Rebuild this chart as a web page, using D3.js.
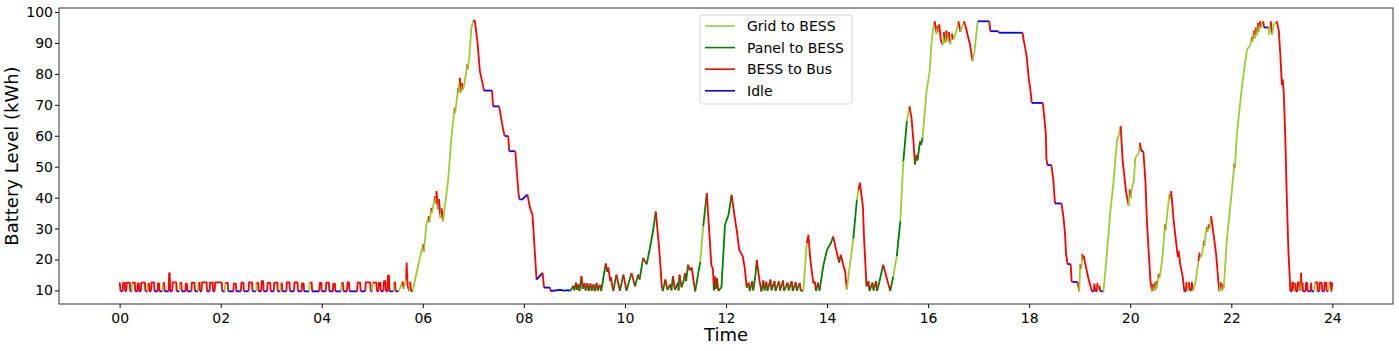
<!DOCTYPE html>
<html>
<head>
<meta charset="UTF-8">
<title>Battery level over the day</title>
<style>
  body { margin: 0; background: #fff; }
  svg text { font-family: "DejaVu Sans", sans-serif; fill: #000; }
</style>
</head>
<body>
<div id="chart"></div>
<script src="https://d3js.org/d3.v7.min.js"></script>
<script>
var width = 1399, height = 351;
var plotLeft = 59, plotRight = 1393, plotTop = 8, plotBottom = 304;

// readings: time (h), battery level (kWh), state of the segment that starts there
// g = grid to BESS, p = panel to BESS, b = BESS to bus, i = idle
var hours = [
  0.00, 0.02,
  0.06, 0.07, 0.10, 0.11, 0.13, 0.14, 0.20, 0.21,
  0.24, 0.25, 0.30, 0.31, 0.35, 0.36, 0.38, 0.39,
  0.42, 0.43, 0.50, 0.51, 0.55, 0.56, 0.58, 0.59,
  0.62, 0.63, 0.68, 0.69, 0.75, 0.76, 0.78, 0.79,
  0.85, 0.86, 0.88, 0.89, 0.97, 0.98, 0.99, 1.00,
  1.04, 1.05, 1.12, 1.13, 1.18, 1.19, 1.22, 1.23,
  1.30, 1.31, 1.33, 1.34, 1.42, 1.43, 1.48, 1.49,
  1.55, 1.56, 1.58, 1.59, 1.62, 1.63, 1.72, 1.73,
  1.78, 1.79, 1.84, 1.85, 1.88, 1.89, 2.02, 2.03,
  2.08, 2.09, 2.14, 2.15, 2.25, 2.26, 2.30, 2.31,
  2.40, 2.41, 2.45, 2.46, 2.55, 2.56, 2.62, 2.63,
  2.70, 2.71, 2.74, 2.75, 2.80, 2.81, 2.84, 2.85,
  2.92, 2.93, 2.98, 2.99, 3.05, 3.06, 3.12, 3.13,
  3.18, 3.19, 3.21, 3.22, 3.30, 3.31, 3.36, 3.37,
  3.45, 3.46, 3.52, 3.53, 3.60, 3.61, 3.64, 3.65,
  3.75, 3.76, 3.80, 3.81, 3.95, 3.96, 3.99, 4.00,
  4.08, 4.09, 4.14, 4.15, 4.22, 4.23, 4.26, 4.27,
  4.38, 4.39, 4.42, 4.43, 4.50, 4.51, 4.54, 4.55,
  4.70, 4.71, 4.76, 4.77, 4.86, 4.87, 4.96, 4.97,
  5.00, 5.01, 5.08, 5.09, 5.12, 5.13, 5.16, 5.17,
  5.22, 5.23, 5.26, 5.27, 5.30, 5.31, 5.33, 5.34,
  5.42, 5.43, 5.45, 5.46,
  5.52, 5.60, 5.62, 5.67, 5.68, 5.70, 5.73, 5.75, 5.77,
  5.80, 5.87, 5.94, 6.01, 6.02, 6.07, 6.12, 6.13, 6.17, 6.18, 6.24, 6.26,
  6.27, 6.30, 6.32, 6.35, 6.37, 6.40, 6.44, 6.50, 6.57,
  6.63, 6.64, 6.70, 6.71, 6.73, 6.76, 6.78, 6.79, 6.82, 6.88, 6.89, 6.92, 6.96,
  7.00, 7.03, 7.08, 7.13, 7.18, 7.21, 7.37, 7.39, 7.51, 7.59, 7.62, 7.69, 7.71, 7.83, 7.89, 7.91, 7.97,
  8.07, 8.12, 8.17, 8.22, 8.25, 8.37, 8.40, 8.52, 8.53, 8.72, 8.80, 8.88, 8.92,
  8.98, 9.00, 9.03, 9.05, 9.08, 9.10, 9.14, 9.16, 9.20, 9.22, 9.26, 9.28, 9.32, 9.34, 9.38, 9.40, 9.44, 9.46, 9.50, 9.53,
  9.62, 9.65, 9.67, 9.71, 9.72, 9.77, 9.83, 9.90, 9.97, 10.03, 10.13, 10.20, 10.26, 10.29,
  10.36, 10.43, 10.50, 10.56, 10.61, 10.68, 10.73,
  10.75, 10.80, 10.84, 10.90, 10.92, 10.95, 10.99, 11.05, 11.06, 11.08, 11.12, 11.16, 11.19, 11.21, 11.25, 11.28, 11.32, 11.39,
  11.49, 11.55, 11.62, 11.67, 11.71, 11.74, 11.76, 11.78, 11.80, 11.82, 11.85,
  11.91, 11.98, 12.05, 12.11, 12.18, 12.22, 12.26, 12.33, 12.37, 12.41,
  12.45, 12.47, 12.52, 12.54, 12.58, 12.61, 12.66, 12.70, 12.74, 12.76,
  12.80, 12.82, 12.88, 12.90, 12.96, 12.98, 13.05, 13.07, 13.13, 13.15,
  13.22, 13.24, 13.30, 13.32, 13.38, 13.40, 13.46, 13.48, 13.53,
  13.60, 13.63, 13.67, 13.73, 13.76, 13.78, 13.82, 13.85, 13.88,
  13.93, 14.00, 14.08, 14.12, 14.18, 14.24, 14.27, 14.36, 14.39,
  14.46, 14.52, 14.59, 14.62, 14.65, 14.71, 14.73, 14.77, 14.78,
  14.82, 14.84, 14.90, 14.92, 14.97, 14.99, 15.03, 15.11, 15.18, 15.25,
  15.31, 15.38, 15.45, 15.51, 15.58, 15.63, 15.67, 15.71, 15.74, 15.77, 15.79, 15.84, 15.86, 15.89,
  15.94, 15.97, 16.03, 16.07, 16.11,
  16.13, 16.17, 16.18, 16.20, 16.22, 16.25, 16.29, 16.31, 16.34, 16.36,
  16.38, 16.41, 16.44, 16.47, 16.50, 16.54, 16.57, 16.60, 16.64, 16.71,
  16.74, 16.79, 16.83, 16.88, 16.92, 16.98,
  17.21, 17.23, 17.39, 17.40, 17.87, 17.89, 17.92, 17.95, 17.99, 18.02,
  18.05, 18.27, 18.30, 18.33, 18.34, 18.36, 18.44, 18.48, 18.51, 18.64,
  18.68, 18.71, 18.73, 18.76, 18.82, 18.84, 18.86, 18.96, 18.99,
  19.01, 19.03, 19.05, 19.07, 19.08, 19.10, 19.17, 19.24, 19.28, 19.29,
  19.31, 19.34, 19.35, 19.37, 19.39, 19.41, 19.47,
  19.54, 19.60, 19.67, 19.74, 19.77, 19.81, 19.85, 19.88, 19.92, 19.95,
  19.97, 19.99, 20.01, 20.03, 20.07, 20.10, 20.17, 20.19, 20.22, 20.26,
  20.30, 20.33, 20.36, 20.40, 20.43,
  20.45, 20.46, 20.49, 20.50, 20.52, 20.53, 20.56, 20.58, 20.63, 20.69,
  20.70, 20.76, 20.78, 20.79, 20.81, 20.86, 20.92, 20.94, 20.96, 20.99,
  21.04, 21.07,
  21.10, 21.11, 21.13, 21.16, 21.18, 21.21, 21.22, 21.24, 21.29, 21.35,
  21.37, 21.38, 21.42, 21.46, 21.47, 21.49, 21.52, 21.53, 21.55, 21.57,
  21.60, 21.65, 21.70, 21.75, 21.76, 21.79, 21.81, 21.83, 21.85,
  21.91, 22.01, 22.06, 22.07, 22.11, 22.18, 22.24, 22.31, 22.38, 22.41,
  22.42, 22.45, 22.46, 22.49, 22.50, 22.53, 22.54, 22.57, 22.58, 22.63,
  22.65, 22.74, 22.75, 22.78, 22.81, 22.84, 22.90,
  22.94, 22.97, 23.00, 23.02, 23.04, 23.07, 23.10, 23.13, 23.17,
  23.20, 23.21, 23.23, 23.24, 23.27, 23.28, 23.31, 23.32, 23.35, 23.36,
  23.38, 23.39, 23.41, 23.42, 23.47, 23.48, 23.50, 23.51, 23.57, 23.58,
  23.59, 23.64, 23.66, 23.70, 23.71, 23.74, 23.75, 23.79, 23.80, 23.84,
  23.85, 23.88, 23.89, 23.92, 23.94, 23.97, 23.98, 24.00
];

var levels = [
  12.6, 9.7,
  9.7, 12.4, 12.4, 9.7, 9.7, 12.5, 12.5, 9.7,
  9.7, 12.5, 12.5, 9.7, 9.7, 12.3, 12.3, 9.7,
  9.7, 12.5, 12.5, 9.7, 9.7, 12.2, 12.2, 9.7,
  9.7, 12.6, 12.6, 9.7, 9.7, 12.3, 12.3, 9.7,
  9.7, 12.4, 12.4, 9.7, 9.7, 15.6, 15.6, 9.7,
  9.7, 12.6, 12.6, 9.7, 9.7, 12.4, 12.4, 9.7,
  9.7, 12.2, 12.2, 9.7, 9.7, 12.5, 12.5, 9.7,
  9.7, 12.4, 12.4, 9.7, 9.7, 12.6, 12.6, 9.7,
  9.7, 12.5, 12.5, 9.7, 9.7, 12.6, 12.6, 9.7,
  9.7, 12.4, 12.4, 9.7, 9.7, 12.2, 12.2, 9.7,
  9.7, 12.5, 12.5, 9.7, 9.7, 12.6, 12.6, 9.7,
  9.7, 12.4, 12.4, 9.7, 9.7, 13.0, 13.0, 9.7,
  9.7, 12.4, 12.4, 9.7, 9.7, 12.5, 12.5, 9.7,
  9.7, 12.3, 12.3, 9.7, 9.7, 12.6, 12.6, 9.7,
  9.7, 12.6, 12.6, 9.7, 9.7, 12.3, 12.3, 9.7,
  9.7, 12.5, 12.5, 9.7, 9.7, 12.4, 12.4, 9.7,
  9.7, 12.5, 12.5, 9.7, 9.7, 12.2, 12.2, 9.7,
  9.7, 12.4, 12.4, 9.7, 9.7, 12.6, 12.6, 9.7,
  9.7, 12.5, 12.5, 9.7, 9.7, 12.6, 12.6, 9.7,
  9.7, 12.5, 12.5, 9.7, 9.7, 12.4, 12.4, 9.7,
  9.7, 13.0, 13.0, 9.7, 9.7, 14.8, 14.8, 9.7,
  9.7, 12.6, 12.6, 9.7,
  9.7, 12.8, 10.5, 13.5, 18.8, 11.5, 9.7, 12.8, 9.8,
  9.7, 15.2, 20.5, 24.9, 22.5, 31.3, 34.0, 32.0, 36.7, 35.0, 40.5, 38.0,
  42.1, 36.0, 39.5, 33.5, 36.5, 32.4, 37.8, 45.3, 60.4,
  69.0, 67.5, 75.5, 74.0, 78.7, 74.0, 77.0, 74.9, 76.5, 83.0, 81.5, 85.1, 94.8,
  97.2, 97.2, 90.5, 80.8, 77.1, 74.6, 74.6, 69.5, 69.5, 62.0, 59.9, 59.9, 55.0, 55.0, 42.1, 39.4, 39.4,
  41.0, 36.7, 34.5, 21.6, 13.5, 15.7, 10.9, 10.9, 9.8, 10.2, 9.9, 10.1, 9.8,
  11.5, 10.0, 12.5, 10.2, 12.0, 9.8, 14.6, 10.5, 12.4, 10.0, 12.3, 9.8, 12.2, 9.9, 12.0, 9.8, 12.4, 9.9, 11.8, 9.8,
  18.7, 16.0, 17.4, 13.0, 14.3, 9.8, 15.1, 9.9, 15.1, 9.9, 15.6, 11.3, 15.1, 13.5,
  20.5, 18.4, 24.2, 29.6, 35.5, 23.1, 11.3,
  9.8, 13.5, 10.2, 12.0, 10.0, 14.6, 10.2, 12.5, 10.0, 15.1, 11.0, 13.0, 15.6, 13.0, 18.3, 16.5, 17.4, 9.7,
  19.2, 30.7, 41.4, 28.5, 18.2, 17.0, 10.0, 14.5, 10.5, 14.0, 9.8,
  11.0, 31.2, 34.4, 40.9, 32.9, 28.6, 23.2, 21.1, 17.4, 10.9,
  12.5, 9.8, 13.0, 10.0, 14.5, 19.9, 13.5, 9.7, 13.2, 10.0,
  12.8, 9.8, 13.5, 10.0, 13.0, 9.8, 12.9, 10.0, 13.2, 9.8,
  12.5, 10.0, 13.0, 9.8, 12.6, 9.9, 12.4, 9.8, 10.0,
  25.3, 27.8, 19.8, 12.3, 12.8, 9.8, 12.5, 9.9, 13.0,
  18.3, 23.1, 25.5, 27.4, 23.1, 19.0, 21.5, 15.8, 10.2,
  19.2, 26.7, 39.3, 42.5, 44.7, 37.1, 27.4, 14.8, 11.3,
  13.0, 9.8, 12.5, 10.0, 13.0, 9.8, 12.4, 18.3, 14.0, 9.8,
  14.5, 21.1, 32.4, 51.8, 64.7, 69.5, 66.0, 58.2, 50.7, 53.8, 52.0, 58.2, 57.0, 59.3,
  69.0, 74.4, 80.8, 90.5, 96.1,
  97.0, 93.0, 95.5, 93.6, 96.0, 91.0, 89.4, 93.5, 90.0, 94.0,
  90.5, 93.5, 89.6, 93.0, 91.0, 93.0, 94.5, 97.0, 93.6, 97.0,
  95.5, 92.0, 89.4, 84.1, 87.6, 97.0,
  97.0, 93.8, 93.8, 93.3, 93.3, 91.0, 88.4, 85.7, 78.7, 75.5,
  70.6, 70.6, 65.8, 60.4, 52.8, 50.5, 50.5, 45.3, 38.1, 38.1,
  33.5, 28.1, 21.7, 18.5, 18.5, 13.0, 12.7, 12.7, 9.7,
  18.4, 17.0, 21.7, 20.0, 21.2, 19.4, 14.0, 9.7, 9.7, 12.0,
  9.8, 9.8, 12.2, 10.0, 11.5, 9.7, 9.7,
  22.2, 34.5, 45.3, 58.8, 59.9, 63.1, 51.8, 47.5, 41.5, 39.0,
  37.3, 42.6, 40.0, 43.0, 45.3, 52.8, 54.5, 57.7, 55.0, 55.0,
  45.3, 32.4, 23.8, 13.0, 9.7,
  12.0, 9.8, 12.5, 10.2, 13.0, 11.0, 15.3, 14.0, 19.5, 31.3,
  29.5, 38.9, 41.0, 39.5, 42.1, 32.4, 23.8, 21.0, 22.5, 18.4,
  14.3, 9.7,
  9.7, 12.4, 9.8, 12.6, 10.0, 10.0, 12.5, 9.8, 12.5, 19.5,
  22.0, 20.5, 21.6, 26.0, 24.5, 28.1, 30.5, 29.0, 31.3, 30.0,
  34.0, 28.1, 21.6, 11.9, 9.7, 12.5, 9.8, 12.0, 10.6,
  25.9, 42.1, 51.0, 49.5, 60.4, 71.2, 79.8, 87.8, 89.4, 92.0,
  90.5, 94.0, 91.5, 95.0, 92.5, 96.5, 93.5, 97.0, 94.8, 97.0,
  95.0, 95.0, 92.8, 97.0, 92.8, 96.0, 97.0,
  94.0, 86.2, 76.6, 78.0, 73.4, 58.2, 38.9, 22.7, 9.7,
  9.7, 12.5, 12.4, 9.7, 12.3, 9.7, 9.7, 12.6, 12.5, 9.8,
  15.7, 10.0, 12.5, 9.7, 9.7, 12.4, 12.4, 9.7, 9.7, 12.3,
  9.7, 9.7, 12.6, 12.6, 9.7, 9.7, 12.5, 12.4, 9.7, 9.7,
  12.5, 12.5, 9.7, 9.7, 12.6, 12.5, 9.8, 12.5
];

var states = [
  "b", "i",
  "b", "b", "b", "i", "b", "b", "b", "i",
  "g", "b", "b", "i", "b", "b", "b", "i",
  "b", "b", "b", "i", "g", "b", "b", "i",
  "b", "b", "b", "i", "b", "b", "b", "i",
  "g", "b", "b", "i", "b", "b", "b", "i",
  "b", "b", "b", "i", "g", "b", "b", "i",
  "b", "b", "b", "i", "b", "b", "b", "i",
  "g", "b", "b", "i", "b", "b", "b", "i",
  "b", "b", "b", "i", "b", "b", "b", "i",
  "g", "b", "b", "i", "b", "b", "b", "i",
  "b", "b", "b", "i", "b", "b", "b", "i",
  "g", "b", "b", "i", "b", "b", "b", "i",
  "b", "b", "b", "i", "b", "b", "b", "i",
  "g", "b", "b", "i", "b", "b", "b", "i",
  "b", "b", "b", "i", "b", "b", "b", "i",
  "g", "b", "b", "i", "b", "b", "b", "i",
  "b", "b", "b", "i", "b", "b", "b", "i",
  "g", "b", "b", "i", "b", "b", "b", "i",
  "b", "b", "b", "i", "b", "b", "b", "i",
  "g", "b", "b", "i", "b", "b", "b", "i",
  "b", "b", "b", "i", "b", "b", "b", "i",
  "g", "b", "b", "i",
  "g", "b", "g", "b", "b", "b", "g", "b", "i",
  "g", "g", "g", "b", "g", "g", "b", "g", "b", "g", "b", "g",
  "b", "g", "b", "g", "b", "g", "g", "g", "g",
  "b", "g", "b", "g", "b", "g", "b", "g", "g", "b", "g", "g", "g",
  "i", "b", "b", "b", "b", "i", "b", "i", "b", "b", "i", "b", "i", "b", "b", "i", "i",
  "b", "b", "b", "b", "i", "b", "i", "b", "i", "i", "i", "i", "p",
  "b", "p", "b", "p", "b", "p", "b", "p", "b", "p", "b", "p", "b", "p", "b", "p", "b", "p", "b", "p",
  "b", "p", "b", "p", "b", "p", "b", "p", "b", "p", "b", "p", "b", "p",
  "b", "p", "p", "p", "b", "b", "b",
  "p", "b", "p", "b", "p", "b", "p", "b", "p", "b", "p", "p", "b", "p", "b", "p", "b", "p",
  "g", "p", "b", "b", "b", "b", "p", "b", "p", "b", "p",
  "p", "p", "p", "b", "b", "b", "b", "b", "b", "p",
  "b", "p", "b", "p", "p", "b", "b", "p", "b", "p",
  "b", "p", "b", "p", "b", "p", "b", "p", "b", "p",
  "b", "p", "b", "p", "b", "p", "b", "p", "g",
  "b", "b", "b", "p", "b", "p", "b", "p", "p",
  "p", "p", "p", "b", "b", "p", "b", "b", "g",
  "g", "p", "g", "b", "b", "b", "b", "b", "p",
  "b", "p", "b", "p", "b", "p", "p", "b", "b", "p",
  "g", "p", "g", "p", "g", "b", "b", "b", "p", "b", "p", "b", "p", "g",
  "g", "g", "g", "g", "g",
  "b", "g", "b", "g", "b", "b", "g", "b", "g", "b",
  "g", "b", "g", "b", "g", "g", "g", "b", "g", "b",
  "b", "b", "b", "g", "g", "i",
  "b", "i", "b", "i", "b", "b", "b", "b", "b", "b",
  "i", "b", "b", "b", "b", "i", "b", "b", "i", "b",
  "b", "b", "b", "i", "b", "b", "i", "b", "g",
  "b", "g", "b", "g", "b", "b", "b", "i", "b", "b",
  "i", "b", "b", "g", "b", "i", "g",
  "g", "g", "g", "g", "g", "b", "b", "b", "b", "b",
  "g", "b", "g", "g", "g", "g", "g", "b", "i", "b",
  "b", "b", "b", "b", "g",
  "b", "g", "b", "g", "b", "g", "b", "g", "g", "b",
  "g", "g", "b", "g", "b", "b", "b", "b", "b", "b",
  "b", "i",
  "b", "b", "g", "b", "i", "b", "b", "g", "g", "b",
  "b", "g", "g", "b", "g", "g", "b", "g", "b", "g",
  "b", "b", "b", "b", "g", "b", "g", "b", "g",
  "g", "g", "b", "g", "g", "g", "g", "g", "g", "b",
  "g", "b", "g", "b", "g", "b", "g", "b", "g", "b",
  "i", "g", "g", "b", "g", "g", "b",
  "b", "b", "b", "b", "b", "b", "b", "b", "i",
  "b", "b", "b", "g", "b", "i", "b", "b", "b", "g",
  "b", "g", "b", "i", "b", "b", "b", "i", "b", "b",
  "i", "g", "b", "b", "i", "b", "b", "b", "i", "b",
  "b", "b", "i", "g", "b", "b", "b", "b"
];

var stateCodes = ["g", "p", "b", "i"];
var stateNames = ["Grid to BESS", "Panel to BESS", "BESS to Bus", "Idle"];
var stateColors = ["yellowgreen", "green", "red", "blue"];

var hourTicks = [0, 2, 4, 6, 8, 10, 12, 14, 16, 18, 20, 22, 24];
var hourLabels = ["00", "02", "04", "06", "08", "10", "12", "14", "16", "18", "20", "22", "24"];
var levelTicks = [10, 20, 30, 40, 50, 60, 70, 80, 90, 100];

if (hours.length != levels.length || hours.length != states.length) {
  console.log("length mismatch", hours.length, levels.length, states.length);
}

var svg = d3.select("#chart").append("svg")
  .attr("width", width)
  .attr("height", height);

var x = d3.scaleLinear().domain([-1.2, 25.2]).range([plotLeft, plotRight]);
var y = d3.scaleLinear().domain([5.6, 101.3]).range([plotBottom, plotTop]);
var color = d3.scaleOrdinal().domain(stateCodes).range(stateColors);

// split the trace into runs that share one state
var runs = [];
var cur = null;
for (var i = 0; i < hours.length - 1; i++) {
  if (!cur || cur.state != states[i]) {
    cur = {state: states[i], pts: [[hours[i], levels[i]]]};
    runs.push(cur);
  }
  cur.pts.push([hours[i + 1], levels[i + 1]]);
}

var line = d3.line()
  .x(function(d) { return x(d[0]); })
  .y(function(d) { return y(d[1]); });

svg.append("g")
  .selectAll("path")
  .data(runs)
  .enter()
  .append("path")
  .attr("d", function(d) { return line(d.pts); })
  .attr("fill", "none")
  .attr("stroke", function(d) { return color(d.state); })
  .attr("stroke-width", 1.8)
  .attr("stroke-linejoin", "round");

// axes
var xAxis = d3.axisBottom(x)
  .tickValues(hourTicks)
  .tickFormat(function(d, i) { return hourLabels[i]; })
  .tickSize(4)
  .tickPadding(5);
var yAxis = d3.axisLeft(y)
  .tickValues(levelTicks)
  .tickSize(4)
  .tickPadding(2);

var gx = svg.append("g")
  .attr("transform", "translate(0," + plotBottom + ")")
  .call(xAxis);
var gy = svg.append("g")
  .attr("transform", "translate(" + plotLeft + ",0)")
  .call(yAxis);
gx.select(".domain").remove();
gy.select(".domain").remove();
svg.selectAll(".tick line").attr("stroke", "#000");
svg.selectAll(".tick text")
  .attr("font-size", 14)
  .attr("font-family", "DejaVu Sans")
  .attr("fill", "#000");

// frame
svg.append("rect")
  .attr("x", plotLeft)
  .attr("y", plotTop)
  .attr("width", plotRight - plotLeft)
  .attr("height", plotBottom - plotTop)
  .attr("fill", "none")
  .attr("stroke", "#333")
  .attr("stroke-width", 1);

svg.append("text")
  .attr("x", (plotLeft + plotRight) / 2)
  .attr("y", 341)
  .attr("text-anchor", "middle")
  .attr("font-size", 18)
  .text("Time");

svg.append("text")
  .attr("transform", "translate(18," + (plotTop + plotBottom) / 2 + ") rotate(-90)")
  .attr("text-anchor", "middle")
  .attr("font-size", 18)
  .text("Battery Level (kWh)");

// legend
var legend = svg.append("g");
legend.append("rect")
  .attr("x", 700)
  .attr("y", 15)
  .attr("width", 152)
  .attr("height", 89)
  .attr("rx", 3)
  .attr("fill", "white")
  .attr("fill-opacity", 0.8)
  .attr("stroke", "#d6d6d6");

var item = legend.selectAll(".item")
  .data(stateNames)
  .enter()
  .append("g")
  .attr("class", "item")
  .attr("transform", function(d, i) { return "translate(0," + (26 + i * 21.6) + ")"; });
item.append("line")
  .attr("x1", 705)
  .attr("x2", 735)
  .attr("stroke", function(d, i) { return stateColors[i]; })
  .attr("stroke-width", 1.6);
item.append("text")
  .attr("x", 747)
  .attr("dy", "0.35em")
  .attr("font-size", 14)
  .text(function(d) { return d; });
</script>
</body>
</html>
